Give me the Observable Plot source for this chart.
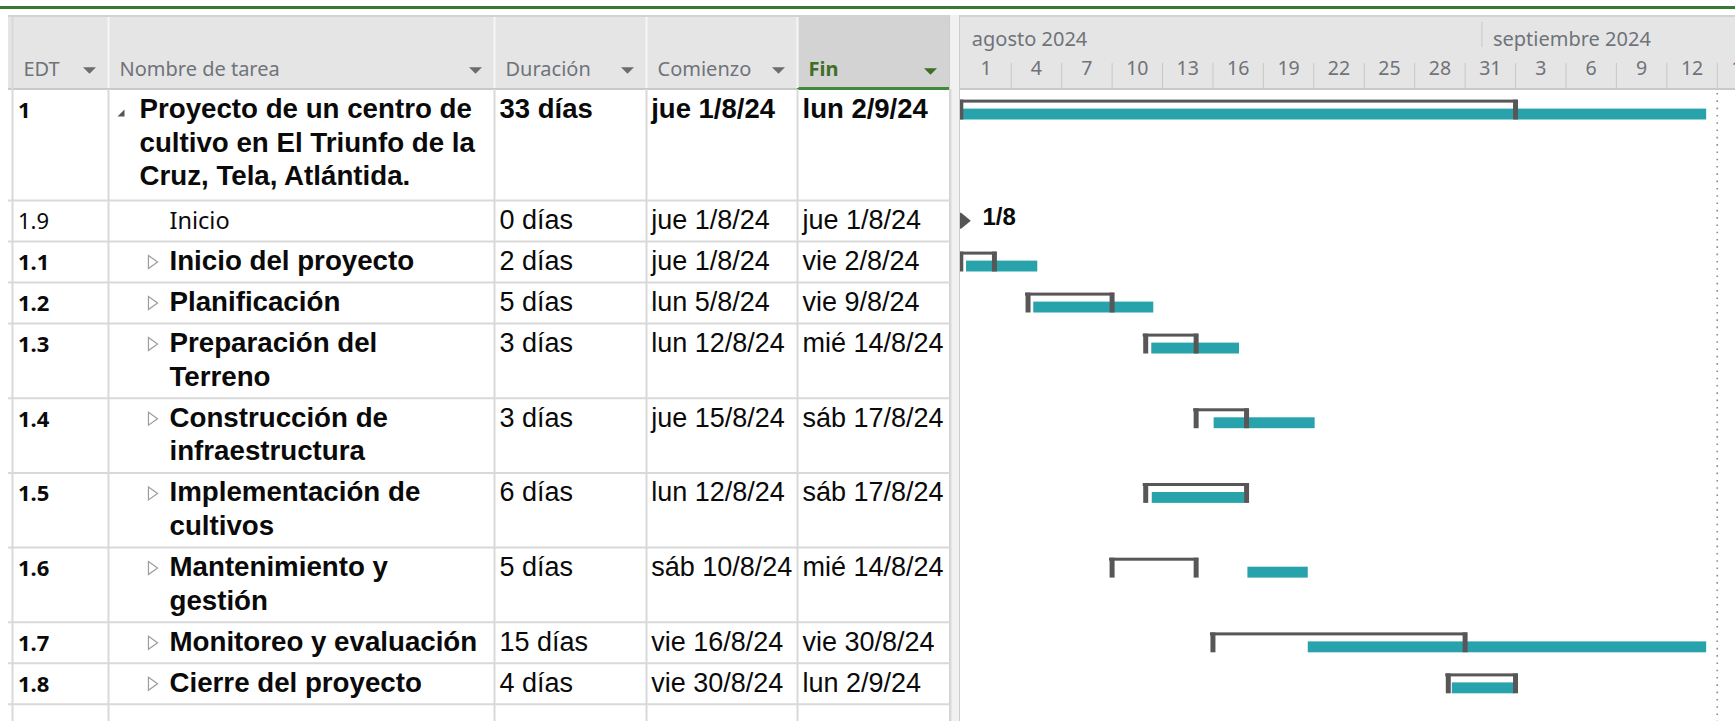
<!DOCTYPE html>
<html>
<head>
<meta charset="utf-8">
<script src="https://cdn.jsdelivr.net/npm/d3@7"></script>
<script src="https://cdn.jsdelivr.net/npm/@observablehq/plot@0.6"></script>
<style>
  html, body { margin: 0; padding: 0; background: #fff; }
  #root { position: relative; width: 1735px; height: 721px; overflow: hidden; background: #fff; }
  #root .band { position: absolute; }
  #root svg { position: absolute; top: 0; overflow: visible; }
</style>
</head>
<body>
<div id="root"></div>
<script>
// ---------------- DATA ----------------
const taskIds = ["1", "1.9", "1.1", "1.2", "1.3", "1.4", "1.5", "1.6", "1.7", "1.8"];
const taskKinds = ["proyecto", "hito", "resumen", "resumen", "resumen", "resumen", "resumen", "resumen", "resumen", "resumen"];
const taskNameLines = [
  ["Proyecto de un centro de", "cultivo en El Triunfo de la", "Cruz, Tela, Atlántida."],
  ["Inicio"],
  ["Inicio del proyecto"],
  ["Planificación"],
  ["Preparación del", "Terreno"],
  ["Construcción de", "infraestructura"],
  ["Implementación de", "cultivos"],
  ["Mantenimiento y", "gestión"],
  ["Monitoreo y evaluación"],
  ["Cierre del proyecto"]
];
const durations = ["33 días", "0 días", "2 días", "5 días", "3 días", "3 días", "6 días", "5 días", "15 días", "4 días"];
const startLabels = ["jue 1/8/24", "jue 1/8/24", "jue 1/8/24", "lun 5/8/24", "lun 12/8/24", "jue 15/8/24", "lun 12/8/24", "sáb 10/8/24", "vie 16/8/24", "vie 30/8/24"];
const finishLabels = ["lun 2/9/24", "jue 1/8/24", "vie 2/8/24", "vie 9/8/24", "mié 14/8/24", "sáb 17/8/24", "sáb 17/8/24", "mié 14/8/24", "vie 30/8/24", "lun 2/9/24"];
// teal bars, in days after 1 Aug 2024
const tealStartDays = [0, null, 0.34, 4.34, 11.36, 15.07, 11.39, 17.08, 20.67, 29.24];
const tealEndDays = [44.37, null, 4.58, 11.48, 16.58, 21.08, 16.9, 20.67, 44.37, 32.96];
const columnHeaders = ["EDT", "Nombre de tarea", "Duración", "Comienzo", "Fin"];
const monthLabels = ["agosto 2024", "septiembre 2024"];
const monthStarts = ["2024-08-01", "2024-09-01"];
const dayTickLabels = ["1", "4", "7", "10", "13", "16", "19", "22", "25", "28", "31", "3", "6", "9", "12", "15"];
const statusDate = "2024-09-15";

// ---------------- LAYOUT / STYLE ----------------
const W = 1735, H = 721;
const colEdges = [12, 108, 494, 646, 797, 950];
const headerTop = 17, headerBottom = 89;
const rowHeightByLines = {1: 41, 2: 74.7, 3: 111};
const BASE = 28.5, LINE = 33.5;
const ARIAL = "'Liberation Sans', Arial, sans-serif";
const UI = "'Noto Sans', 'Open Sans', sans-serif";
const GRID = "#d9d9d9";
const HEAD_TXT = "#6f737a";
const TEAL = "#29a3ab";
const DARK = "#575757";
const GANTT_LEFT = 960, PX_PER_DAY = 16.81;

const DAY = 864e5;
const origin = new Date(monthStarts[0] + "T00:00:00Z");
const dayToDate = d => new Date(+origin + d * DAY);
const parseLabel = s => {
  const [d, m, y] = s.split(" ")[1].split("/").map(Number);
  return new Date(Date.UTC(2000 + y, m - 1, d));
};

// rows
const rowTops = [];
{
  let acc = headerBottom;
  taskNameLines.forEach(l => { rowTops.push(acc); acc += rowHeightByLines[l.length]; });
}
const rows = taskIds.map((id, i) => ({
  i, id, kind: taskKinds[i], lines: taskNameLines[i], top: rowTops[i],
  bottom: rowTops[i] + rowHeightByLines[taskNameLines[i].length],
  dur: durations[i], start: startLabels[i], finish: finishLabels[i]
}));

// ---------------- HTML background bands ----------------
const root = document.getElementById("root");
function band(left, top, width, height, css) {
  const d = document.createElement("div");
  d.className = "band";
  Object.assign(d.style, {left: left + "px", top: top + "px", width: width + "px", height: height + "px"}, css);
  root.appendChild(d);
}
band(0, 6, W, 3, {background: "#367a36"});
band(8, 15, W - 8, 2, {background: "#d2d2d2"});
band(8, headerTop, W - 8, headerBottom - headerTop, {background: "#e5e5e5"});
band(colEdges[4], headerTop, colEdges[5] - colEdges[4], headerBottom - headerTop, {background: "#d3d3d3"});
band(8, headerBottom - 1, W - 8, 2, {background: "#c9c9c9"});
band(colEdges[4], headerBottom - 2.5, colEdges[5] - colEdges[4], 3, {background: "#3f8a3c"});
band(949, 15, 11, H - 15, {background: "#f1f1f1", borderLeft: "1px solid #cdcdcd", borderRight: "1px solid #cdcdcd", boxSizing: "border-box"});

// ---------------- symbols ----------------
const rOf = size => Math.sqrt(size / Math.PI);
const arrowDown = {draw(ctx, size) { const r = rOf(size); ctx.moveTo(-r, -r / 2); ctx.lineTo(r, -r / 2); ctx.lineTo(0, r / 2); ctx.closePath(); }};
const collapseIcon = {draw(ctx, size) { const r = rOf(size); ctx.moveTo(r, -r); ctx.lineTo(r, r); ctx.lineTo(-r, r); ctx.closePath(); }};
const expandIcon = {draw(ctx, size) { const r = rOf(size); ctx.moveTo(-0.7 * r, -r); ctx.lineTo(0.7 * r, 0); ctx.lineTo(-0.7 * r, r); ctx.closePath(); }};
const milestoneSym = {draw(ctx, size) { const r = rOf(size); ctx.moveTo(r, 0); ctx.lineTo(0, 0.82 * r); ctx.lineTo(-r, 0); ctx.lineTo(0, -0.82 * r); ctx.closePath(); }};

// ---------------- TABLE (Plot) ----------------
const cellText = [];
rows.forEach(r => {
  const isHito = r.kind === "hito";
  cellText.push({col: 0, dx: 5.5, y: r.top + BASE, text: r.id, family: UI, size: 22, weight: isHito ? "normal" : "bold"});
  r.lines.forEach((t, k) => cellText.push({
    col: 1, dx: r.kind === "proyecto" ? 31 : 61, y: r.top + BASE + k * LINE, text: t,
    family: isHito ? UI : ARIAL, size: isHito ? 23.5 : 27.7, weight: isHito ? "normal" : "bold"
  }));
  [r.dur, r.start, r.finish].forEach((t, j) => cellText.push({
    col: 2 + j, dx: j === 0 ? 5 : (j === 1 ? 4.7 : 5), y: r.top + BASE, text: t,
    family: ARIAL, size: r.kind === "proyecto" ? 27.5 : 27, weight: r.kind === "proyecto" ? "bold" : "normal"
  }));
});
const groups = d3.groups(cellText, d => [d.dx, d.family, d.size, d.weight].join("|"));
const textMarks = groups.map(([, g]) => Plot.text(g, {
  x: "col", y: "y", text: "text", dx: g[0].dx, textAnchor: "start", lineAnchor: "bottom",
  fontFamily: g[0].family, fontSize: g[0].size, fontWeight: g[0].weight, fill: "#0a0a0a"
}));

const headerCells = columnHeaders.map((t, i) => ({col: i, text: t, active: t === "Fin"}));

const tablePlot = Plot.plot({
  width: colEdges[5], height: H, margin: 0,
  x: {type: "linear", domain: d3.range(colEdges.length), range: colEdges, axis: null},
  y: {type: "linear", domain: [0, H], range: [0, H], axis: null},
  style: {background: "transparent", overflow: "visible"},
  marks: [
    Plot.ruleX([1, 2, 3, 4], {x: d => d, y1: headerTop, y2: headerBottom - 1, stroke: "#f6f6f6", strokeWidth: 2}),
    Plot.ruleX(d3.range(colEdges.length), {x: d => d, y1: d => d === 0 ? headerTop : headerBottom, y2: H, stroke: GRID, strokeWidth: 2}),
    Plot.ruleY(rows, {y: "bottom", x1: 0, x2: colEdges.length - 1, insetLeft: -4, stroke: GRID, strokeWidth: 2}),
    Plot.text(headerCells.filter(d => !d.active), {x: "col", y: 75, text: "text", dx: 11, textAnchor: "start", lineAnchor: "bottom", fontFamily: UI, fontSize: 20, fill: HEAD_TXT}),
    Plot.text(headerCells.filter(d => d.active), {x: "col", y: 75, text: "text", dx: 11, textAnchor: "start", lineAnchor: "bottom", fontFamily: UI, fontSize: 20, fontWeight: "bold", fill: "#3f6f26"}),
    Plot.dot(headerCells.filter(d => !d.active), {x: d => d.col + 1, y: 70, dx: -19, r: 6.5, symbol: arrowDown, fill: "#6d6d6d"}),
    Plot.dot(headerCells.filter(d => d.active), {x: d => d.col + 1, y: 71, dx: -20, r: 6.5, symbol: arrowDown, fill: "#3f6f26"}),
    Plot.dot(rows.filter(r => r.kind === "proyecto"), {x: 1, y: d => d.top + 23.5, dx: 12.5, r: 3.5, symbol: collapseIcon, fill: "#555"}),
    Plot.dot(rows.filter(r => r.kind === "resumen"), {x: 1, y: d => d.top + 20.5, dx: 44.5, r: 6.5, symbol: expandIcon, fill: "white", stroke: "#9c9c9c", strokeWidth: 1.2}),
    ...textMarks
  ]
});
tablePlot.style.left = "0px";
root.appendChild(tablePlot);

// ---------------- GANTT (Plot) ----------------
const ganttW = W - GANTT_LEFT;
const xEnd = new Date(+origin + 46 * DAY);
const bars = rows.filter(r => r.kind !== "hito").map(r => ({
  top: r.top, start: parseLabel(r.start), end: new Date(+parseLabel(r.finish) + DAY)
}));
const legs = bars.flatMap(b => [{top: b.top, x: b.start}, {top: b.top, x: b.end}]);
const teal = rows.filter(r => tealStartDays[r.i] != null).map(r => ({
  top: r.top, start: dayToDate(tealStartDays[r.i]), end: dayToDate(tealEndDays[r.i])
}));
const milestones = rows.filter(r => r.kind === "hito").map(r => {
  const d = parseLabel(r.start);
  return {top: r.top, x: d, label: `${d.getUTCDate()}/${d.getUTCMonth() + 1}`};
});
const dayCells = dayTickLabels.map((t, i) => ({
  text: t, start: new Date(+origin + 3 * i * DAY), mid: new Date(+origin + (3 * i + 1.5) * DAY)
}));
const months = monthLabels.map((t, i) => ({text: t, start: new Date(monthStarts[i] + "T00:00:00Z")}));

const ganttPlot = Plot.plot({
  width: ganttW, height: H, margin: 0,
  x: {type: "utc", domain: [origin, xEnd], range: [0.3, 0.3 + 46 * PX_PER_DAY], axis: null},
  y: {type: "linear", domain: [0, H], range: [0, H], axis: null},
  style: {background: "transparent", overflow: "visible"},
  marks: [
    Plot.ruleX(dayCells.slice(1), {x: "start", y1: 63, y2: headerBottom - 1, stroke: "#c8c8c8", strokeWidth: 1}),
    Plot.ruleX(months.slice(1), {x: "start", y1: 22, y2: 47, stroke: "#c8c8c8", strokeWidth: 1}),
    Plot.text(months, {x: "start", y: 45, dx: 11, text: "text", textAnchor: "start", lineAnchor: "bottom", fontFamily: UI, fontSize: 20, fill: HEAD_TXT}),
    Plot.text(dayCells, {x: "mid", y: 74, text: "text", textAnchor: "middle", lineAnchor: "bottom", fontFamily: UI, fontSize: 19.5, fill: HEAD_TXT}),
    Plot.ruleX([new Date(statusDate + "T00:00:00Z")], {x: d => d, y1: 93, y2: H, stroke: "#8a8a8a", strokeWidth: 1.6, strokeDasharray: "1.6 5.7"}),
    Plot.rect(teal, {x1: "start", x2: "end", y1: d => d.top + 19.6, y2: d => d.top + 30.5, fill: TEAL, clip: true}),
    Plot.rect(bars, {x1: "start", x2: "end", y1: d => d.top + 10.6, y2: d => d.top + 13.6, insetLeft: -2.5, insetRight: -2.5, fill: DARK, clip: true}),
    Plot.ruleX(legs, {x: "x", y1: d => d.top + 10.6, y2: d => d.top + 30.5, stroke: DARK, strokeWidth: 5, clip: true}),
    Plot.dot(milestones, {x: "x", y: d => d.top + 20.3, r: 10, symbol: milestoneSym, fill: "#555", clip: true}),
    Plot.text(milestones, {x: "x", y: d => d.top + 24, text: "label", dx: 21.7, textAnchor: "start", lineAnchor: "bottom", fontFamily: ARIAL, fontSize: 24, fontWeight: "bold", fill: "#0a0a0a"})
  ]
});
ganttPlot.style.left = GANTT_LEFT + "px";
root.appendChild(ganttPlot);
</script>
</body>
</html>
